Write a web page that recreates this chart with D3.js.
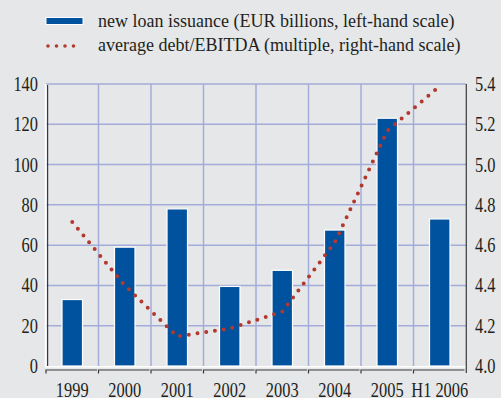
<!DOCTYPE html>
<html><head><meta charset="utf-8">
<script src="https://cdn.jsdelivr.net/npm/d3@7"></script>
<style>
html,body{margin:0;padding:0;background:#e6e7e9;}
svg{display:block;}
text{font-family:"Liberation Serif","Times New Roman",serif;fill:#231f20;}
</style></head><body>
<script>
const categories = ["1999","2000","2001","2002","2003","2004","2005","H1 2006"];
const loanIssuance = [33, 59, 78, 39.5, 47.5, 67.5, 123, 73];
const debtEbitda = [4.715, 4.40, 4.147, 4.186, 4.27, 4.613, 5.167, 5.39];
const leftTicks = [0,20,40,60,80,100,120,140];
const rightTicks = [4.0,4.2,4.4,4.6,4.8,5.0,5.2,5.4];
const legendLabels = ["new loan issuance (EUR billions, left-hand scale)","average debt/EBITDA (multiple, right-hand scale)"];

const W=501,H=398;
const svg=d3.select("body").append("svg").attr("width",W).attr("height",H);
svg.append("rect").attr("width",W).attr("height",H).attr("fill","#e6e7e9");

const x=d3.scaleBand().domain(categories).range([46,466]).paddingInner(0).paddingOuter(0);
const yL=d3.scaleLinear().domain([0,140]).range([366,84]);
const yR=d3.scaleLinear().domain([4.0,5.4]).range([366,84]);
const gridC="#a3acd9";

// horizontal gridlines
svg.append("g").selectAll("line").data(leftTicks.filter(d=>d>0)).join("line")
  .attr("x1",46).attr("x2",466).attr("y1",d=>yL(d)).attr("y2",d=>yL(d))
  .attr("stroke",gridC).attr("stroke-width",1.5);
// vertical gridlines at category boundaries
svg.append("g").selectAll("line").data(categories.slice(1)).join("line")
  .attr("x1",d=>x(d)).attr("x2",d=>x(d)).attr("y1",84).attr("y2",366)
  .attr("stroke",gridC).attr("stroke-width",1.5);

// bars
const bw=x.bandwidth()*0.39;
svg.append("g").selectAll("rect").data(categories).join("rect")
  .attr("x",(d)=>x(d)+x.bandwidth()/2-bw/2)
  .attr("y",(d,i)=>yL(loanIssuance[i]))
  .attr("width",bw)
  .attr("height",(d,i)=>yL(0)-yL(loanIssuance[i]))
  .attr("fill","#00519e").attr("stroke","#ffffff").attr("stroke-width",1.2);

// white zero line and left white line
svg.append("line").attr("x1",45).attr("x2",466).attr("y1",366.8).attr("y2",366.8).attr("stroke","#fff").attr("stroke-width",1.6);
svg.append("line").attr("x1",45.6).attr("x2",45.6).attr("y1",84).attr("y2",367).attr("stroke","#fff").attr("stroke-width",1.6);
// dark left axis
svg.append("line").attr("x1",47.6).attr("x2",47.6).attr("y1",85).attr("y2",366).attr("stroke","#3a3a3a").attr("stroke-width",1.2);
// right axis
svg.append("line").attr("x1",466.3).attr("x2",466.3).attr("y1",84).attr("y2",373).attr("stroke","#3a3a3a").attr("stroke-width",1.2);
// bottom bracket axis
const ax=svg.append("g").attr("stroke","#3a3a3a").attr("stroke-width",1.2).attr("fill","none");
categories.forEach(c=>{
  const x0=x(c), x1=x(c)+x.bandwidth();
  ax.append("path").attr("d",`M${x0},373.5 V370 H${x1-1.5}`);
});

// debt/EBITDA dotted line
const line=d3.line().x((d,i)=>x(categories[i])+x.bandwidth()/2).y(d=>yR(d));
svg.append("path").datum(debtEbitda).attr("d",line)
  .attr("fill","none").attr("stroke","#b2392f").attr("stroke-width",4)
  .attr("stroke-linecap","round").attr("stroke-dasharray","0 8.8");

// left tick labels
svg.append("g").selectAll("text").data(leftTicks).join("text")
  .attr("x",38/0.82).attr("y",d=>yL(d)+7).attr("text-anchor","end")
  .attr("font-size",20).attr("transform","scale(0.82,1)")
  .text(d=>d);
// right tick labels
svg.append("g").selectAll("text").data(rightTicks).join("text")
  .attr("x",475/0.82).attr("y",d=>yR(d)+7).attr("text-anchor","start")
  .attr("font-size",20).attr("transform","scale(0.82,1)")
  .text(d=>d.toFixed(1));
// category labels
svg.append("g").selectAll("text").data(categories).join("text")
  .attr("x",d=>(x(d)+x.bandwidth()/2)/0.82).attr("y",397).attr("text-anchor","middle")
  .attr("font-size",20).attr("transform","scale(0.82,1)")
  .text(d=>d);

// legend
svg.append("rect").attr("x",46).attr("y",17.5).attr("width",37).attr("height",7).attr("fill","#00519e").attr("stroke","#fff").attr("stroke-width",1);
svg.append("line").attr("x1",48).attr("x2",82).attr("y1",46).attr("y2",46)
  .attr("stroke","#b2392f").attr("stroke-width",3.6).attr("stroke-linecap","round").attr("stroke-dasharray","0 8.5");
svg.append("g").selectAll("text").data(legendLabels).join("text")
  .attr("x",98).attr("y",(d,i)=>27+i*23.5).attr("font-size",18)
  .text(d=>d);
</script>
</body></html>
